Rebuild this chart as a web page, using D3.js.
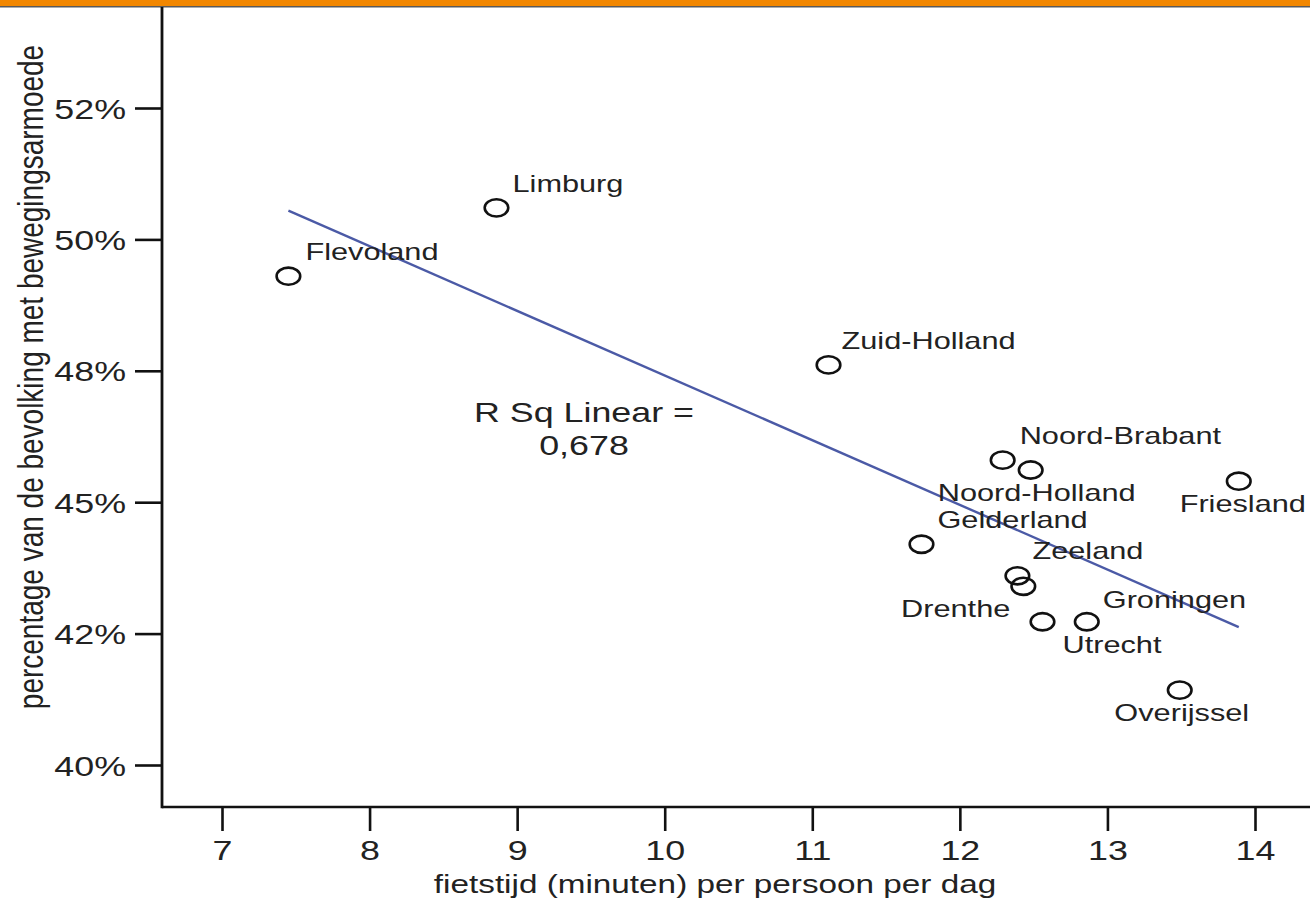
<!DOCTYPE html>
<html>
<head>
<meta charset="utf-8">
<script src="https://cdn.jsdelivr.net/npm/d3@7"></script>
<style>
  body { margin: 0; background: #fff; }
  svg { display: block; font-family: "Liberation Sans", Arial, sans-serif; }
  text { fill: #222; }
</style>
</head>
<body>
<div id="chart"></div>
<script>
// provinces, fietstijd (min/dag) and share with bewegingsarmoede (%)
const provinces = ["Flevoland", "Limburg", "Zuid-Holland", "Noord-Brabant", "Noord-Holland", "Friesland",
  "Gelderland", "Zeeland", "Drenthe", "Utrecht", "Groningen", "Overijssel"]
const cycleMinutes = [7.45, 8.86, 11.11, 12.29, 12.48, 13.89, 11.74, 12.39, 12.43, 12.56, 12.86, 13.49]
const inactivePct = [49.44, 50.48, 48.09, 46.64, 46.49, 46.32, 45.36, 44.88, 44.72, 44.18, 44.18, 43.14]

const xTickValues = [7, 8, 9, 10, 11, 12, 13, 14]
const yTickValues = [52, 50, 48, 46, 44, 42]
const yTickLabels = ["52%", "50%", "48%", "45%", "42%", "40%"]
const rSquaredText = ["R Sq Linear =", "0,678"]

// label placement around each point: [dx, dy, anchor]
const labelOffsets = {
  "Flevoland": [17, -16, "start"],
  "Limburg": [16, -16, "start"],
  "Zuid-Holland": [13, -16, "start"],
  "Noord-Brabant": [17, -16, "start"],
  "Noord-Holland": [6, 31, "middle"],
  "Friesland": [4, 31, "middle"],
  "Gelderland": [16, -16, "start"],
  "Zeeland": [15, -17, "start"],
  "Drenthe": [-13, 31, "end"],
  "Utrecht": [20, 31, "start"],
  "Groningen": [16, -14, "start"],
  "Overijssel": [2, 31, "middle"]
}

const width = 1310
const height = 906
const stretch = 1.28   // the source picture is widened horizontally
const frame = {left: 162, top: 7, right: 1310, bottom: 807}

const data = provinces.map((name, i) => ({name, x: cycleMinutes[i], y: inactivePct[i]}))

const x = d3.scaleLinear().domain([7, 14]).range([222, 1255])
const y = d3.scaleLinear().domain([42, 52]).range([765, 108])

const svg = d3.select("#chart")
  .append("svg")
  .attr("width", width)
  .attr("height", height)

// orange band at the top
svg.append("rect")
  .attr("x", 0).attr("y", 0)
  .attr("width", width).attr("height", 6)
  .attr("fill", "#f28700")
svg.append("line")
  .attr("x1", 0).attr("x2", width)
  .attr("y1", 6.8).attr("y2", 6.8)
  .attr("stroke", "#5a5a5a")
  .attr("stroke-width", 1.6)

// axes
const xAxis = svg.append("g")
  .attr("transform", `translate(0,${frame.bottom})`)
  .call(d3.axisBottom(x).tickValues(xTickValues).tickSize(24).tickPadding(9).tickFormat(d3.format("d")))

const yAxis = svg.append("g")
  .attr("transform", `translate(${frame.left},0)`)
  .call(d3.axisLeft(y).tickValues(yTickValues).tickSize(27).tickPadding(9)
    .tickFormat((d, i) => yTickLabels[i]))

svg.selectAll(".domain").remove()
svg.selectAll(".tick line").attr("stroke", "#111").attr("stroke-width", 2.6)
svg.selectAll(".tick text")
  .style("font-size", "28px")
  .attr("fill", "#222")

xAxis.selectAll(".tick text")
  .attr("y", null).attr("dy", null)
  .attr("transform", `translate(0,${24 + 9 + 20}) scale(${stretch},1)`)

yAxis.selectAll(".tick text")
  .attr("x", null).attr("dy", null)
  .attr("transform", `translate(-36,10) scale(${stretch},1)`)

svg.append("line")
  .attr("x1", frame.left).attr("x2", frame.left)
  .attr("y1", frame.top).attr("y2", frame.bottom + 1.3)
  .attr("stroke", "#111").attr("stroke-width", 2.8)
svg.append("line")
  .attr("x1", frame.left).attr("x2", frame.right)
  .attr("y1", frame.bottom).attr("y2", frame.bottom)
  .attr("stroke", "#111").attr("stroke-width", 2.6)

// axis titles
svg.append("text")
  .attr("transform", `translate(715,893) scale(${stretch},1)`)
  .attr("text-anchor", "middle")
  .style("font-size", "26px")
  .text("fietstijd (minuten) per persoon per dag")

svg.append("text")
  .attr("transform", `translate(43,377) scale(${stretch},1) rotate(-90)`)
  .attr("text-anchor", "middle")
  .style("font-size", "28px")
  .text("percentage van de bevolking met bewegingsarmoede")

// linear fit through the points
const mx = d3.mean(data, d => d.x)
const my = d3.mean(data, d => d.y)
const slope = d3.sum(data, d => (d.x - mx) * (d.y - my)) / d3.sum(data, d => (d.x - mx) ** 2)
const fit = v => my + slope * (v - mx)
const [minX, maxX] = d3.extent(data, d => d.x)

svg.append("path")
  .datum([minX, maxX])
  .attr("d", d3.line().x(v => x(v)).y(v => y(fit(v))))
  .attr("fill", "none")
  .attr("stroke", "#4b5aa6")
  .attr("stroke-width", 2.4)

// R squared annotation
svg.append("g")
  .selectAll("text")
  .data(rSquaredText)
  .enter()
  .append("text")
  .attr("transform", (d, i) => `translate(584,${422 + i * 33}) scale(${stretch},1)`)
  .attr("text-anchor", "middle")
  .style("font-size", "28px")
  .text(d => d)

// points
svg.append("g")
  .selectAll("ellipse")
  .data(data)
  .enter()
  .append("ellipse")
  .attr("cx", d => x(d.x))
  .attr("cy", d => y(d.y))
  .attr("rx", 11.8)
  .attr("ry", 8.6)
  .attr("fill", "none")
  .attr("stroke", "#111")
  .attr("stroke-width", 2.6)

// point labels
svg.append("g")
  .selectAll("text")
  .data(data)
  .enter()
  .append("text")
  .attr("transform", d => {
    const [dx, dy] = labelOffsets[d.name]
    return `translate(${x(d.x) + dx},${y(d.y) + dy}) scale(${stretch},1)`
  })
  .attr("text-anchor", d => labelOffsets[d.name][2])
  .style("font-size", "24px")
  .text(d => d.name)
</script>
</body>
</html>
